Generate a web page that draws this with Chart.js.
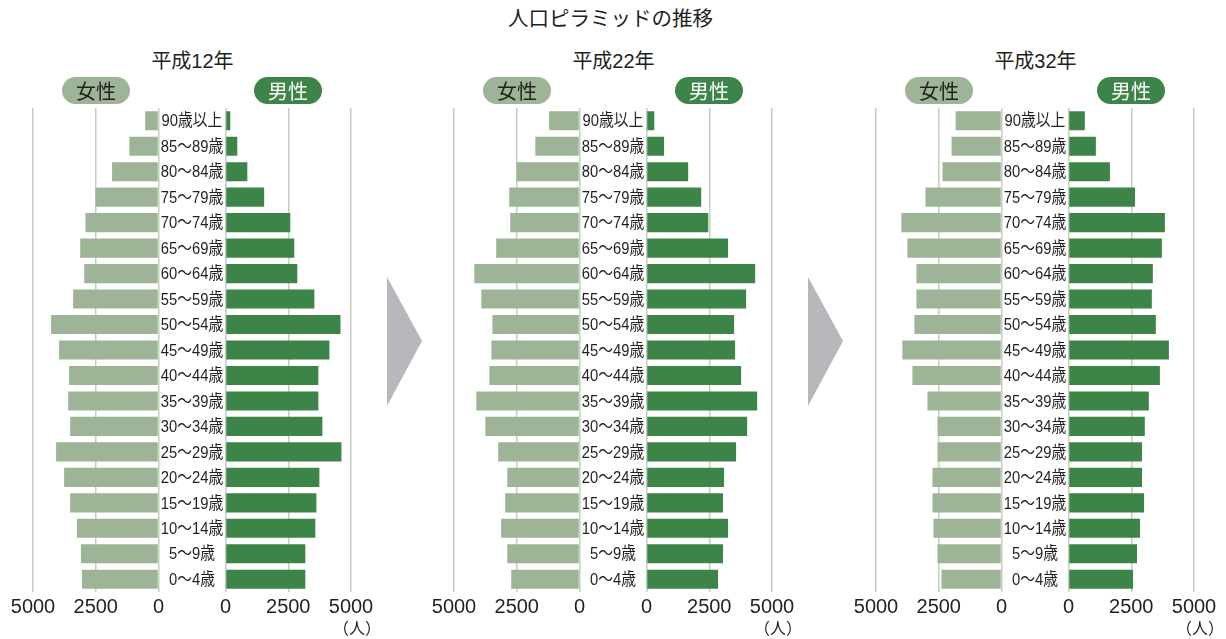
<!DOCTYPE html>
<html lang="ja">
<head>
<meta charset="utf-8">
<title>人口ピラミッドの推移</title>
<script src="https://cdn.jsdelivr.net/npm/chart.js@4.4.0/dist/chart.umd.min.js"></script>
<style>
  body { margin: 0; background: #fff; }
  #wrap { position: relative; width: 1226px; height: 639px; overflow: hidden;
          font-family: "Liberation Sans", "Noto Sans CJK JP", sans-serif; color: #231f20; }
  .txt { position: absolute; white-space: nowrap; line-height: 1; }
  #title { left: 0; width: 1221px; top: 9px; text-align: center; font-size: 20.5px; }
  .year { width: 120px; top: 51px; text-align: center; font-size: 20px; }
  .pill { position: absolute; top: 77px; width: 68px; height: 27px; border-radius: 14px;
          font-family: "Noto Sans CJK JP", sans-serif; font-size: 20px; line-height: 27px; text-align: center; }
  .pill.f { background: #9db596; color: #231f20; }
  .pill.m { background: #3c8448; color: #fff; }
  .unit { width: 60px; top: 619px; text-align: center; font-size: 16px; font-family: "Noto Sans CJK JP", sans-serif; }
  canvas { position: absolute; top: 100px; }
  svg { position: absolute; top: 0; left: 0; }
</style>
</head>
<body>
<div id="wrap">
  <div id="title" class="txt">人口ピラミッドの推移</div>
  <svg width="1226" height="639">
    <polygon points="387,277 422,341 387,406" fill="#b7b8bb"/>
    <polygon points="808,277 843,341 808,406" fill="#b7b8bb"/>
  </svg>
  <canvas id="p1" width="378" height="539"></canvas>
  <canvas id="p2" width="378" height="539"></canvas>
  <canvas id="p3" width="378" height="539"></canvas>
</div>
<script>
const ageLabels = ['90歳以上', '85～89歳', '80～84歳', '75～79歳', '70～74歳', '65～69歳', '60～64歳',
  '55～59歳', '50～54歳', '45～49歳', '40～44歳', '35～39歳', '30～34歳', '25～29歳', '20～24歳',
  '15～19歳', '10～14歳', '5～9歳', '0～4歳'];
const yearTitles = ['平成12年', '平成22年', '平成32年'];
const axisTicks = [0, 2500, 5000];

const femaleH12 = [530, 1160, 1850, 2510, 2910, 3120, 2960, 3400, 4280, 3960, 3560, 3600, 3520, 4080, 3760, 3520, 3250, 3090, 3050];
const maleH12   = [190, 470, 870, 1540, 2580, 2740, 2860, 3540, 4580, 4140, 3700, 3700, 3860, 4620, 3740, 3620, 3580, 3180, 3180];
const femaleH22 = [1210, 1760, 2510, 2800, 2760, 3320, 4190, 3910, 3470, 3510, 3590, 4110, 3750, 3240, 2880, 2960, 3120, 2880, 2720];
const maleH22   = [310, 700, 1660, 2180, 2460, 3250, 4330, 3970, 3490, 3530, 3770, 4410, 4010, 3570, 3090, 3050, 3250, 3050, 2850];
const femaleH32 = [1830, 1990, 2350, 3030, 3990, 3750, 3390, 3390, 3470, 3950, 3550, 2950, 2550, 2550, 2750, 2750, 2710, 2550, 2390];
const maleH32   = [650, 1090, 1650, 2650, 3840, 3720, 3360, 3320, 3480, 4000, 3640, 3200, 3040, 2930, 2930, 3010, 2850, 2730, 2570];

const femaleColor = '#9db596';
const maleColor = '#3c8448';
const gridColor = '#c3cfbd';
const textColor = '#231f20';

// age labels go in the gap between the two halves
const ageLabelPlugin = {
  id: 'ageLabels',
  afterDatasetsDraw(chart) {
    const {ctx, scales: {y, xl}} = chart;
    const cx = (xl.left + xl.right) / 2;
    ctx.save();
    ctx.font = '17px "Liberation Sans", "Noto Sans CJK JP"';
    ctx.fillStyle = textColor;
    ctx.textAlign = 'center';
    ctx.textBaseline = 'middle';
    chart.data.labels.forEach((label, i) => {
      ctx.save();
      ctx.translate(cx, y.getPixelForValue(i) + 1);
      ctx.scale(0.87, 1);
      ctx.fillText(label, 0, 0);
      ctx.restore();
    });
    ctx.restore();
  }
};

function valueAxis(weight, reverse) {
  return {
    type: 'linear',
    position: 'bottom',
    stack: 'pyramid',
    stackWeight: 125.5,
    weight: weight,
    reverse: reverse,
    min: axisTicks[0],
    max: axisTicks[axisTicks.length - 1],
    afterBuildTicks: (scale) => { scale.ticks = axisTicks.map(v => ({value: v})); },
    ticks: {
      autoSkip: false,
      maxRotation: 0,
      minRotation: 0,
      color: textColor,
      padding: 3,
      font: { family: '"Liberation Sans"', size: 20 },
      callback: (value) => String(value)
    },
    grid: { color: gridColor, lineWidth: 1.5, drawTicks: false },
    border: { display: false },
    afterFit: (scale) => { scale.height = 40; }
  };
}

function makePyramid(id, left, female, male) {
  const canvas = document.getElementById(id);
  canvas.style.left = (left - 30) + 'px';

  new Chart(canvas, {
    type: 'bar',
    data: {
      labels: ageLabels,
      datasets: [{
        label: '女性',
        data: female,
        xAxisID: 'xf',
        backgroundColor: femaleColor,
        grouped: false,
        barPercentage: 0.75,
        categoryPercentage: 1
      }, {
        label: '男性',
        data: male,
        xAxisID: 'xm',
        backgroundColor: maleColor,
        grouped: false,
        barPercentage: 0.75,
        categoryPercentage: 1
      }]
    },
    options: {
      indexAxis: 'y',
      responsive: false,
      animation: false,
      layout: { padding: { left: 30, right: 30, top: 8, bottom: 7 } },
      plugins: { legend: { display: false }, tooltip: { enabled: false } },
      scales: {
        y: { display: false },
        xf: valueAxis(0, true),
        xl: {
          type: 'linear', position: 'bottom', stack: 'pyramid', stackWeight: 67, weight: 1,
          min: 0, max: 1,
          ticks: { display: false }, grid: { display: false }, border: { display: false },
          afterFit: (scale) => { scale.height = 40; }
        },
        xm: valueAxis(2, false)
      }
    },
    plugins: [ageLabelPlugin]
  });

  // heading, legend pills and unit
  const wrap = document.getElementById('wrap');
  const add = (cls, text, x) => {
    const d = document.createElement('div');
    d.className = cls;
    d.textContent = text;
    d.style.left = x + 'px';
    wrap.appendChild(d);
  };
  return add;
}

const lefts = [33, 454, 876];
const series = [[femaleH12, maleH12], [femaleH22, maleH22], [femaleH32, maleH32]];

lefts.forEach((left, i) => {
  const add = makePyramid('p' + (i + 1), left, series[i][0], series[i][1]);
  add('txt year', yearTitles[i], left + 159.5 - 60);
  add('pill f', '女性', left + 29);
  add('pill m', '男性', left + 221);
  add('txt unit', '（人）', left + 318 + 6 - 30);
});
</script>
</body>
</html>
